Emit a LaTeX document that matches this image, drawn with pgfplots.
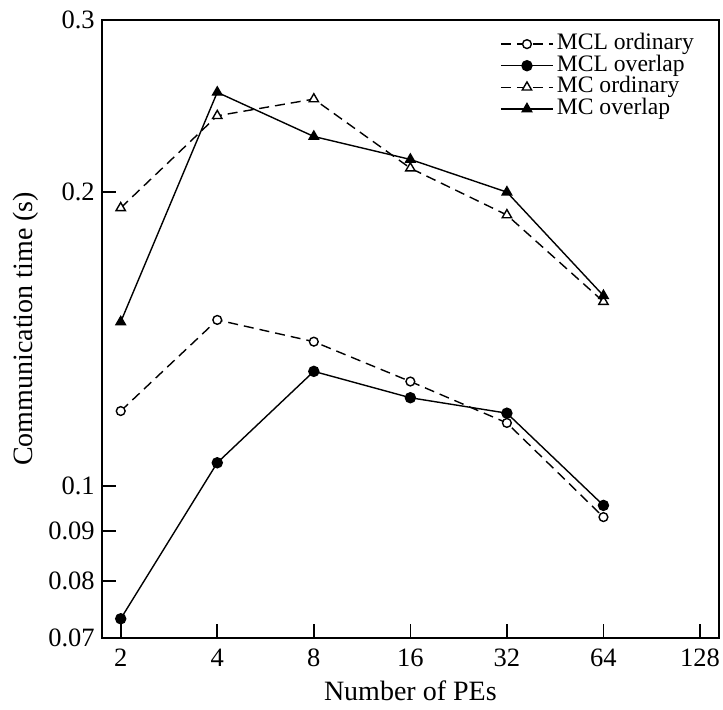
\documentclass[border=0pt]{standalone}
\usepackage{fontspec}
\setmainfont{Liberation Serif}
\usepackage{pgfplots}
\pgfplotsset{compat=1.18}

\begin{document}
\begin{tikzpicture}
\begin{axis}[
  name=ax,
  scale only axis,
  width=308.6pt, height=308.8pt,
  xmode=log, log basis x=2,
  ymode=log,
  xmin=1.745, xmax=146.7,
  ymin=0.07, ymax=0.3,
  xtick={2,4,8,16,32,64,128},
  xticklabels={2,4,8,16,32,64,128},
  ytick={0.07,0.08,0.09,0.1,0.2,0.3},
  yticklabels={0.07,0.08,0.09,0.1,0.2,0.3},
  minor tick num=0,
  minor xtick={}, minor ytick={},
  tick align=inside,
  xtick pos=bottom, ytick pos=left,
  major tick length=7pt,
  axis line style={line width=1pt},
  tick style={line width=0.8pt, black},
  /pgf/number format/assume math mode=true,
  tick label style={font=\fontsize{13.25}{15}\selectfont},
  xticklabel style={yshift=-2pt},
  label style={font=\fontsize{14}{16}\selectfont},
  xlabel={Number of PEs},
  ylabel={Communication time (s)},
  xlabel style={yshift=0pt},
  ylabel style={yshift=-2pt},
  legend cell align=left,
  legend style={draw=none, fill=none, at={(0.645,0.978)}, anchor=north west,
    font=\fontsize{11.8}{11.8}\selectfont, row sep=0.7pt, inner sep=0pt,
    nodes={inner xsep=1.6pt, inner ysep=0pt, text height=7.8pt, text depth=2.3pt, outer sep=0pt}},
  legend image code/.code={%
    \draw[mark repeat=2, mark phase=2] plot coordinates {(0pt,0pt) (13pt,0pt) (26pt,0pt)};},
  every axis plot/.append style={line width=0.7pt, black},
  dashedline/.style={dash pattern=on 5pt off 3pt},
]
% MCL, ordinary communication
\addplot[dashedline, mark=*, mark size=2.2pt, mark options={solid, fill=white}]
  coordinates {(2,0.1194) (4,0.148) (8,0.1406) (16,0.128) (32,0.1161) (64,0.0930)};
\addlegendentry{MCL ordinary}
% MCL, overlapped communication
\addplot[mark=*, mark size=2.5pt, mark options={solid, fill=black}]
  coordinates {(2,0.0732) (4,0.1057) (8,0.1311) (16,0.1232) (32,0.1188) (64,0.0956)};
\addlegendentry{MCL overlap}
% MC, ordinary communication
\addplot[dashedline, mark=triangle*, mark size=2.7pt, mark options={solid, fill=white}]
  coordinates {(2,0.1927) (4,0.2394) (8,0.249) (16,0.2116) (32,0.1895) (64,0.1545)};
\addlegendentry{MC ordinary}
% MC, overlapped communication
\addplot[mark=triangle*, mark size=2.7pt, mark options={solid, fill=black}]
  coordinates {(2,0.1473) (4,0.253) (8,0.228) (16,0.216) (32,0.200) (64,0.1567)};
\addlegendentry{MC overlap}
\end{axis}
\pgfresetboundingbox
\path ([xshift=-50.85pt, yshift=-35.65pt]ax.south west) rectangle ([xshift=2pt, yshift=10pt]ax.north east);
\end{tikzpicture}
\end{document}
